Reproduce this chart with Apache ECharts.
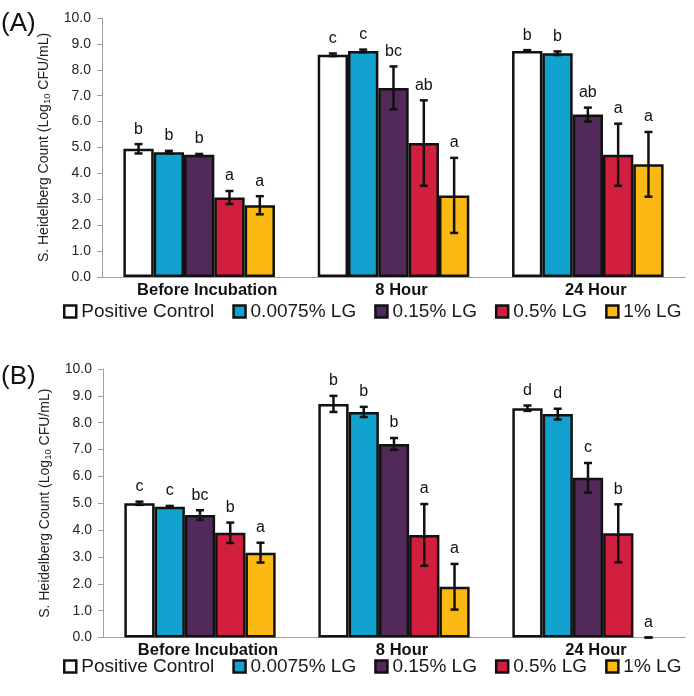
<!DOCTYPE html>
<html>
<head>
<meta charset="utf-8">
<script src="https://cdn.jsdelivr.net/npm/echarts@6/dist/echarts.min.js"></script>
<style>
  html, body { margin: 0; padding: 0; background: #fff; }
  #main { width: 694px; height: 696px; }
</style>
</head>
<body>
<div id="main"></div>
<script>
const categories = ['Before Incubation', '8 Hour', '24 Hour'];
const seriesNames = ['Positive Control', '0.0075% LG', '0.15% LG', '0.5% LG', '1% LG'];
const colors = ['#ffffff', '#12a2d0', '#522a5a', '#d21f40', '#fdb913'];

// panel A: means, error (+/-), letters; one row per treatment
const meansA = [
  [4.95, 8.58, 8.73],
  [4.82, 8.73, 8.64],
  [4.72, 7.30, 6.27],
  [3.07, 5.17, 4.72],
  [2.77, 3.15, 4.35]
];
const errA = [
  [0.18, 0.05, 0.03],
  [0.05, 0.05, 0.07],
  [0.03, 0.83, 0.27],
  [0.25, 1.65, 1.20],
  [0.35, 1.45, 1.25]
];
const lettersA = [
  ['b', 'c', 'b'],
  ['b', 'c', 'b'],
  ['b', 'bc', 'ab'],
  ['a', 'ab', 'a'],
  ['a', 'a', 'a']
];

// panel B
const meansB = [
  [5.00, 8.70, 8.54],
  [4.87, 8.40, 8.32],
  [4.56, 7.21, 5.95],
  [3.90, 3.82, 3.88],
  [3.16, 1.89, 0]
];
const errB = [
  [0.06, 0.30, 0.10],
  [0.03, 0.19, 0.20],
  [0.18, 0.22, 0.55],
  [0.38, 1.15, 1.08],
  [0.37, 0.85, 0]
];
const lettersB = [
  ['c', 'b', 'd'],
  ['c', 'b', 'd'],
  ['bc', 'b', 'c'],
  ['b', 'a', 'b'],
  ['a', 'a', 'a']
];

const panels = [
  { means: meansA, err: errA, letters: lettersA },
  { means: meansB, err: errB, letters: lettersB }
];

const chart = echarts.init(document.getElementById('main'));
const catGap = 0.22;

const errorBars = (p, i) => (params, api) => {
  const cat = api.value(0);
  const mean = api.value(1);
  const e = api.value(2);
  const band = api.size([1, 0])[0];
  const barW = band * (1 - catGap) / seriesNames.length;
  const c = api.coord([cat, mean]);
  const x = c[0] + (i - (seriesNames.length - 1) / 2) * barW;
  const top = api.coord([cat, mean + e])[1];
  const bot = api.coord([cat, mean - e])[1];
  const st = { stroke: '#111', lineWidth: 2.5 };
  return {
    type: 'group',
    children: [
      { type: 'line', shape: { x1: x, y1: top, x2: x, y2: bot }, style: st },
      { type: 'line', shape: { x1: x - 4, y1: top, x2: x + 4, y2: top }, style: st },
      { type: 'line', shape: { x1: x - 4, y1: bot, x2: x + 4, y2: bot }, style: st },
      {
        type: 'text',
        style: {
          x: x, y: top - 7,
          text: panels[p].letters[i][params.dataIndex],
          fill: '#111', font: '16px "Liberation Sans", Arial, sans-serif',
          textAlign: 'center', textVerticalAlign: 'bottom'
        }
      }
    ]
  };
};

const grids = [
  { left: 102, right: 9, top: 18, height: 259 },
  { left: 103, right: 9, top: 369, height: 268.5 }
];

const xAxes = grids.map((g, p) => ({
  type: 'category',
  gridIndex: p,
  data: categories,
  axisLine: { lineStyle: { color: '#a0a0a0', width: 1 } },
  axisTick: { show: false },
  axisLabel: {
    margin: p === 0 ? 5 : 4,
    color: '#111',
    fontWeight: 'bold',
    fontSize: 16.5,
    fontFamily: '"Liberation Sans", Arial, sans-serif',
    padding: [0, 0, 0, 16]
  }
}));

const yAxes = grids.map((g, p) => ({
  type: 'value',
  gridIndex: p,
  min: 0,
  max: 10,
  interval: 1,
  name: 'S. Heidelberg Count (Log{sub|10} CFU/mL)',
  nameLocation: 'middle',
  nameGap: 39,
  nameTextStyle: {
    fontSize: 14,
    color: '#222',
    lineHeight: 17,
    fontFamily: '"Liberation Sans", Arial, sans-serif',
    rich: { sub: { fontSize: 9.5, lineHeight: 9.5, verticalAlign: 'bottom', color: '#222' } }
  },
  axisLine: { show: true, lineStyle: { color: '#a0a0a0', width: 1 } },
  axisTick: { show: true, length: 5, lineStyle: { color: '#a0a0a0' } },
  splitLine: { show: false },
  axisLabel: {
    margin: 11,
    fontSize: 14,
    color: '#262626',
    fontFamily: '"Liberation Sans", Arial, sans-serif',
    formatter: (v) => v.toFixed(1)
  }
}));

const series = [];
panels.forEach((panel, p) => {
  seriesNames.forEach((name, i) => {
    series.push({
      type: 'bar',
      name: name,
      xAxisIndex: p,
      yAxisIndex: p,
      barGap: '0%',
      barCategoryGap: (catGap * 100) + '%',
      itemStyle: { color: colors[i], borderColor: '#111', borderWidth: 2.5 },
      data: panel.means[i].map(v => v === 0 ? { value: v, itemStyle: { borderWidth: 0 } } : v)
    });
  });
  seriesNames.forEach((name, i) => {
    series.push({
      type: 'custom',
      xAxisIndex: p,
      yAxisIndex: p,
      silent: true,
      z: 10,
      renderItem: errorBars(p, i),
      data: panel.means[i].map((m, k) => [k, m, panel.err[i][k]])
    });
  });
});

const legendBase = {
  data: seriesNames,
  left: 63,
  padding: 0,
  orient: 'horizontal',
  icon: 'rect',
  itemWidth: 12,
  itemHeight: 12,
  itemGap: 18,
  selectedMode: false,
  itemStyle: { borderColor: '#111', borderWidth: 2.5 },
  textStyle: { fontSize: 19, color: '#1a1a1a', fontFamily: '"Liberation Sans", Arial, sans-serif' }
};

const option = {
  animation: false,
  backgroundColor: '#fff',
  grid: grids,
  xAxis: xAxes,
  yAxis: yAxes,
  legend: [
    Object.assign({}, legendBase, { top: 302 }),
    Object.assign({}, legendBase, { top: 657 })
  ],
  graphic: [
    { type: 'text', left: 1, top: 11, style: { text: '(A)', fontSize: 26, fill: '#111', fontFamily: '"Liberation Sans", Arial, sans-serif' } },
    { type: 'text', left: 1, top: 364, style: { text: '(B)', fontSize: 26, fill: '#111', fontFamily: '"Liberation Sans", Arial, sans-serif' } }
  ],
  series: series
};

chart.setOption(option);
window.addEventListener('resize', chart.resize);
</script>
</body>
</html>
